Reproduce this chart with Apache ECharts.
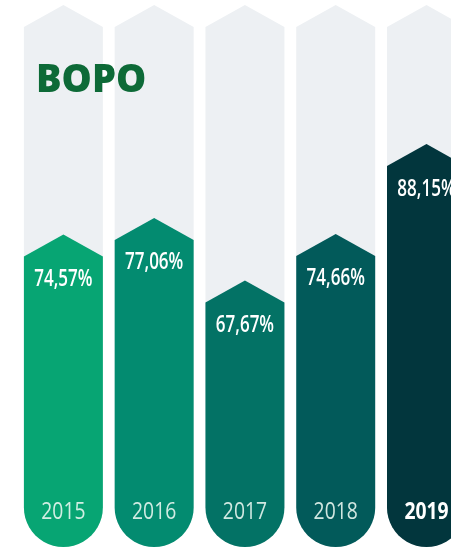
<!DOCTYPE html>
<html>
<head>
<meta charset="utf-8">
<script src="https://cdn.jsdelivr.net/npm/echarts@6/dist/echarts.min.js"></script>
<style>
  html, body { margin: 0; padding: 0; background: #fff; }
  #chart { width: 451px; height: 551px; }
</style>
</head>
<body>
<div id="chart"></div>
<script>
// data
const years = ["2015", "2016", "2017", "2018", "2019"];
const bopo = [74.57, 77.06, 67.67, 74.66, 88.15];
const yMin = 31;
const yMax = 109;

// styles
const barColors = ["#07a573", "#038b70", "#037265", "#025a5a", "#02363d"];
const greyColor = "#edf0f3";

function fmt(v) {
  return v.toFixed(2).replace(".", ",") + "%";
}

// arrow top + round bottom
function columnPoints(cx, top, bottom, w, tipH) {
  const r = w / 2;
  const pts = [[cx - r, top], [cx, top - tipH], [cx + r, top]];
  for (let i = 0; i <= 24; i++) {
    const a = (Math.PI * i) / 24;
    pts.push([cx + r * Math.cos(a), bottom - r + r * Math.sin(a)]);
  }
  return pts;
}

// text squeezed horizontally to look like a condensed face
function narrowText(text, x, y, scaleX, style) {
  return {
    type: "text",
    x: x,
    y: y,
    scaleX: scaleX,
    style: Object.assign(
      { text: text, x: 0, y: 0, align: "center", verticalAlign: "middle" },
      style
    ),
  };
}

const myChart = echarts.init(document.getElementById("chart"));

const options = {
  animation: false,
  title: {
    text: "BOPO",
    left: 31,
    top: 57,
    textStyle: {
      fontFamily: "Open Sans",
      fontWeight: 800,
      fontSize: 38,
      color: "#0d6a37",
    },
  },
  grid: { left: 18, top: 27, right: 0, bottom: 4 },
  // last column runs off the right edge, so the axis stops short of 4.5
  xAxis: { type: "value", min: -0.5, max: 4.27, show: false },
  yAxis: { type: "value", min: yMin, max: yMax, show: false },
  series: [
    {
      name: "bg",
      type: "custom",
      silent: true,
      clip: false,
      data: years.map((y, i) => [i, yMax]),
      renderItem: function (params, api) {
        const p = api.coord([api.value(0), api.value(1)]);
        const base = api.coord([api.value(0), yMin]);
        const w = api.size([1, 0])[0] * 0.87;
        return {
          type: "polygon",
          shape: { points: columnPoints(p[0], p[1], base[1], w, 22) },
          style: { fill: greyColor },
        };
      },
    },
    {
      name: "BOPO",
      type: "custom",
      silent: true,
      clip: false,
      data: bopo.map((v, i) => [i, v]),
      renderItem: function (params, api) {
        const i = api.value(0);
        const v = api.value(1);
        const p = api.coord([i, v]);
        const base = api.coord([i, yMin]);
        const w = api.size([1, 0])[0] * 0.87;
        const last = i === years.length - 1;
        return {
          type: "group",
          children: [
            {
              type: "polygon",
              shape: { points: columnPoints(p[0], p[1], base[1], w, 22) },
              style: { fill: barColors[i] },
            },
            narrowText(fmt(v), p[0], p[1] + 23, 0.74, {
              fill: "#ffffff",
              fontFamily: "Open Sans",
              fontWeight: 600,
              fontSize: 23,
            }),
            narrowText(years[i], p[0], base[1] - 35, 0.84, {
              fill: last ? "#ffffff" : "rgba(232,246,240,0.9)",
              fontFamily: "Open Sans",
              fontWeight: last ? "bold" : "normal",
              fontSize: 23,
            }),
          ],
        };
      },
    },
  ],
};

myChart.setOption(options);
window.addEventListener("resize", function () {
  myChart.resize();
});
</script>
</body>
</html>
